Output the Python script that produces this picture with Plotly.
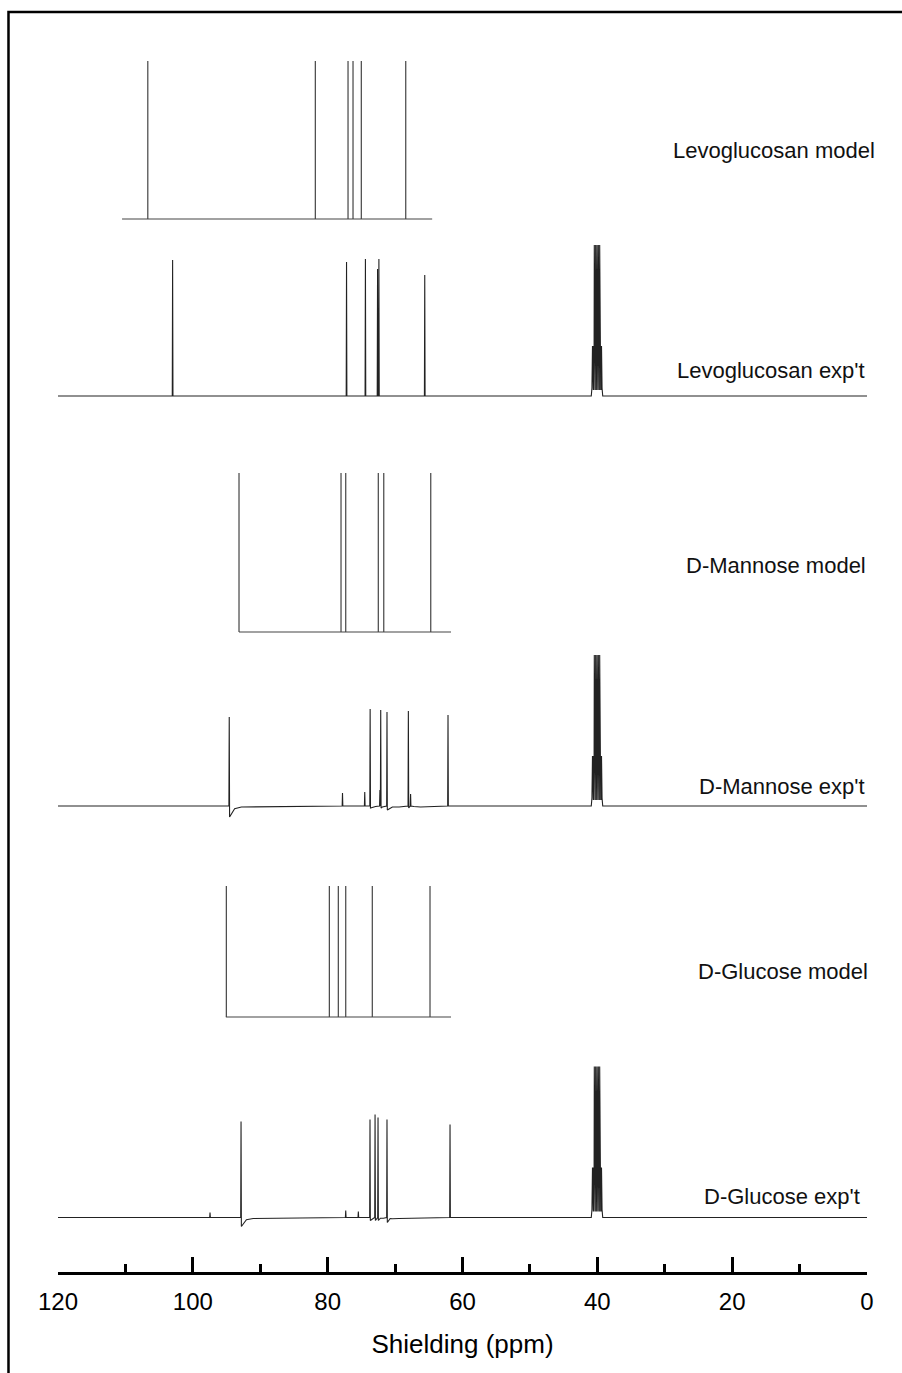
import plotly.graph_objects as go

# ---------------- data (ppm positions, heights in chart units) ----------------
levo_model_ppm = [106.68, 81.83, 76.98, 76.24, 75.01, 68.42]
levo_model_h = [158, 158, 158, 158, 158, 158]
levo_model_span = [110.5, 64.5]

mann_model_ppm = [93.15, 78.02, 77.32, 72.49, 71.68, 64.71]
mann_model_h = [159, 159, 159, 159, 159, 159]
mann_model_span = [93.15, 61.7]

gluc_model_ppm = [95.03, 79.75, 78.42, 77.32, 73.38, 64.82]
gluc_model_h = [131, 131, 131, 131, 131, 131]
gluc_model_span = [95.1, 61.7]

levo_exp_ppm = [103.0, 77.2, 74.4, 72.6, 72.4, 65.6]
levo_exp_h = [136, 134, 137, 127, 137, 121]
levo_exp_dip = [0, 0, 0, 0, 0, 0]

mann_exp_ppm = [94.6, 77.8, 74.5, 73.7, 72.25, 72.13, 71.2, 68.03, 67.7, 62.15]
mann_exp_h = [89, 13, 14, 97, 16, 96, 94, 95, 12, 91]
mann_exp_dip = [11, 0, 0, 2, 0, 2, 4, 2, 0, 0]

gluc_exp_ppm = [97.45, 92.85, 77.32, 75.45, 73.72, 72.97, 72.53, 71.2, 61.85]
gluc_exp_h = [5, 96, 7, 6, 98, 103, 100, 98, 93]
gluc_exp_dip = [0, 9, 0, 0, 3, 3, 3, 5, 0]

# DMSO solvent multiplet (clipped at top), drawn as a dense comb
dmso_ppm = [40.9, 40.8, 40.72, 40.68, 40.64, 40.6, 40.56, 40.52, 40.48,
            40.45, 40.40, 40.35, 40.30, 40.25, 40.20, 40.15, 40.10, 40.05, 40.00,
            39.95, 39.90, 39.85, 39.80, 39.75, 39.70, 39.65,
            39.62, 39.58, 39.54, 39.50, 39.46, 39.42, 39.38, 39.3, 39.2]
dmso_h = [0, 8, 50, 6, 50, 6, 50, 6, 50,
          151, 6, 151, 6, 151, 6, 151, 6, 151, 6,
          151, 6, 151, 6, 151, 6, 151,
          50, 6, 50, 6, 50, 6, 50, 8, 0]

exp_span = [120, 0]

labels = ["Levoglucosan model", "Levoglucosan exp't", "D-Mannose model",
          "D-Mannose exp't", "D-Glucose model", "D-Glucose exp't"]

# ---------------- layout constants ----------------
offsets = {"levo_model": 1053, "levo_exp": 876, "mann_model": 640,
           "mann_exp": 466, "gluc_model": 255, "gluc_exp": 54.5}
label_pos = [(1.012, 1122), (0.9996, 902), (1.001, 707),
             (0.9996, 485.5), (1.004, 301), (0.994, 76)]

FONT = "Liberation Sans, Arial, sans-serif"


def model_trace(ppm, h, span, off):
    xs, ys = [span[0], span[1], None], [off, off, None]
    for p, hh in zip(ppm, h):
        xs += [p, p, None]
        ys += [off, off + hh, None]
    return go.Scatter(x=xs, y=ys, mode="lines",
                      line=dict(color="#444444", width=1.2),
                      hoverinfo="skip", showlegend=False)


def exp_trace(ppm, h, dip, off):
    d = 0.05
    pts = [(exp_span[0], 0)]
    for p, hh, dd in zip(ppm, h, dip):
        pts.append((p + d, 0))
        pts.append((p, hh))
        if dd:
            pts.append((p - d, -dd))
            pts.append((p - 0.8, -dd * 0.25))
            pts.append((p - 1.8, -1))
        else:
            pts.append((p - d, 0))
    pts.sort(key=lambda t: -t[0])
    pts += list(zip(dmso_ppm, dmso_h))
    pts.append((exp_span[1], 0))
    return go.Scatter(x=[q[0] for q in pts], y=[q[1] + off for q in pts],
                      mode="lines", line=dict(color="#222222", width=1.1),
                      hoverinfo="skip", showlegend=False)


fig = go.Figure()
fig.add_trace(model_trace(levo_model_ppm, levo_model_h, levo_model_span, offsets["levo_model"]))
fig.add_trace(exp_trace(levo_exp_ppm, levo_exp_h, levo_exp_dip, offsets["levo_exp"]))
fig.add_trace(model_trace(mann_model_ppm, mann_model_h, mann_model_span, offsets["mann_model"]))
fig.add_trace(exp_trace(mann_exp_ppm, mann_exp_h, mann_exp_dip, offsets["mann_exp"]))
fig.add_trace(model_trace(gluc_model_ppm, gluc_model_h, gluc_model_span, offsets["gluc_model"]))
fig.add_trace(exp_trace(gluc_exp_ppm, gluc_exp_h, gluc_exp_dip, offsets["gluc_exp"]))

for txt, (px, py) in zip(labels, label_pos):
    fig.add_annotation(text=txt, x=px, y=py, xref="paper", yref="y",
                       xanchor="right", yanchor="middle", showarrow=False,
                       font=dict(family=FONT, size=22, color="#111111"))

fig.add_shape(type="rect", xref="paper", yref="paper",
              x0=-0.0612, x1=1.06, y0=-0.12, y1=0.99057,
              line=dict(color="black", width=2.5), fillcolor="rgba(0,0,0,0)")

fig.update_layout(
    width=902, height=1373, autosize=False,
    margin=dict(l=58, r=35, t=0, b=101),
    paper_bgcolor="white", plot_bgcolor="white",
    showlegend=False,
    font=dict(family=FONT, color="black"),
)
fig.update_xaxes(
    range=[120, 0], showgrid=False, zeroline=False,
    showline=True, linecolor="black", linewidth=3,
    ticks="inside", ticklen=15, tickwidth=3, tickcolor="black",
    tick0=0, dtick=20, ticklabelstandoff=6,
    tickfont=dict(family=FONT, size=24, color="black"),
    minor=dict(ticks="inside", dtick=10, ticklen=8, tickwidth=3, tickcolor="black", showgrid=False),
    title=dict(text="Shielding (ppm)", font=dict(family=FONT, size=26, color="black"), standoff=22),
    automargin=False,
)
fig.update_yaxes(range=[0, 1272], visible=False, showgrid=False, zeroline=False)

fig.write_html("out.html")
